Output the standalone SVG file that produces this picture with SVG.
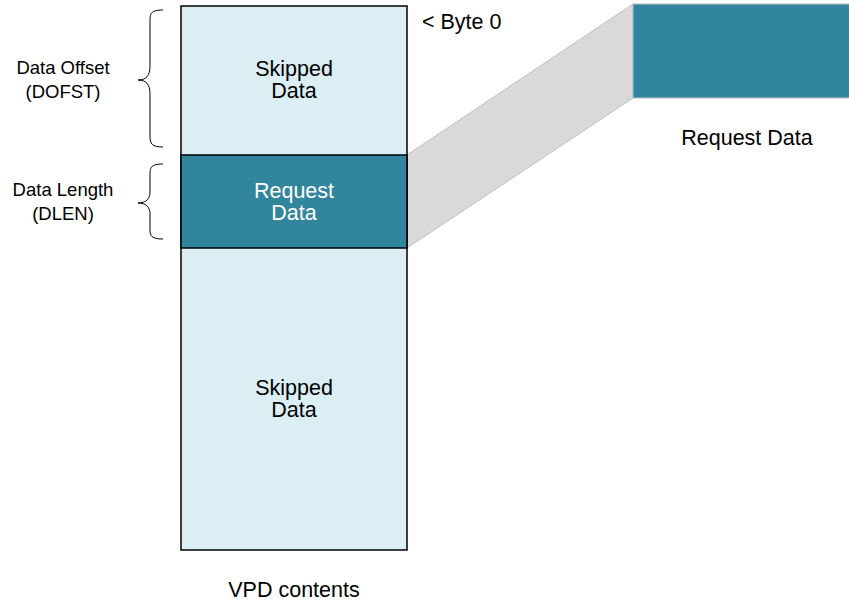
<svg xmlns="http://www.w3.org/2000/svg" width="849" height="603" viewBox="0 0 849 603">
<style>
text{font-family:"Liberation Sans",Arial,sans-serif;fill:#000}
.lbl{font-size:18.5px;text-anchor:middle}
.main{font-size:21.5px;text-anchor:middle}
.brace{fill:none;stroke:#000;stroke-width:1}
.box{stroke:#000;stroke-width:1.5}
</style>
<rect width="849" height="603" fill="#fff"/>
<g id="band">
<polygon points="407,155 633,4 633,98 407,248" fill="#d9d9d9" stroke="#bfbfbf" stroke-width="1"/>
</g>
<g id="request-out">
<rect x="633" y="4" width="220" height="94" fill="#31859c" stroke="#bfbfbf" stroke-width="1"/>
<text class="main" x="747" y="145">Request Data</text>
</g>
<g id="vpd">
<rect class="box" x="181" y="6" width="226" height="544" fill="#dbeef3"/>
<rect class="box" x="181" y="155" width="226" height="93" fill="#31859c"/>
<text class="main" x="294" y="76">Skipped</text>
<text class="main" x="294" y="98">Data</text>
<text class="main" x="294" y="198" style="fill:#fff">Request</text>
<text class="main" x="294" y="220" style="fill:#fff">Data</text>
<text class="main" x="294" y="395">Skipped</text>
<text class="main" x="294" y="417">Data</text>
<text class="main" x="294" y="597">VPD contents</text>
<text class="main" x="422" y="29" style="text-anchor:start">&lt; Byte 0</text>
</g>
<g id="offset">
<path class="brace" d="M163,10 C150,10 150,14 150,22 L150,66 C150,76 146,80 138,80 C146,80 150,84 150,94 L150,136 C150,144 152,147 163,147"/>
<text class="lbl" x="63" y="74">Data Offset</text>
<text class="lbl" x="63" y="98">(DOFST)</text>
</g>
<g id="length">
<path class="brace" d="M163,164 C150,164 150,168 150,176 L150,192 C150,199 146,203 138,203 C146,203 150,207 150,214 L150,230 C150,236 152,239 163,239"/>
<text class="lbl" x="63" y="196">Data Length</text>
<text class="lbl" x="63" y="220">(DLEN)</text>
</g>
</svg>
